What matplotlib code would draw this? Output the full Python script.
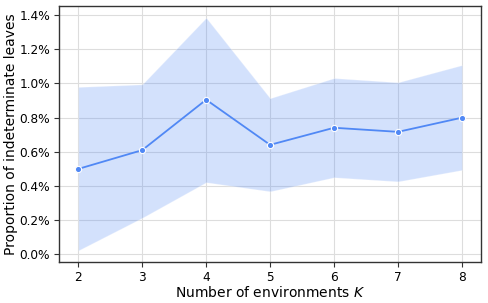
import matplotlib
matplotlib.use("Agg")
import matplotlib.pyplot as plt
from matplotlib.ticker import FuncFormatter

# Valeurs (en %)
k_values = [2, 3, 4, 5, 6, 7, 8]
mean_pct = [0.50, 0.61, 0.905, 0.641, 0.741, 0.717, 0.80]
upper_pct = [0.98, 0.995, 1.385, 0.914, 1.032, 1.007, 1.108]
lower_pct = [0.023, 0.214, 0.422, 0.369, 0.451, 0.427, 0.494]

line_color = "#5088f5"

fig = plt.figure(figsize=(4.88, 3.03), dpi=100)
ax = fig.add_subplot(111)

ax.fill_between(k_values, lower_pct, upper_pct, color=line_color, alpha=0.25,
                linewidth=0.8, edgecolor="white", zorder=2)
ax.plot(k_values, mean_pct, color=line_color, linewidth=1.3, marker="o",
        markersize=4.5, markeredgecolor="white", markeredgewidth=0.8, zorder=3)

ax.yaxis.set_major_formatter(FuncFormatter(lambda v, p: f"{v:.1f}%"))
ax.set_xticks(k_values)
ax.grid(True, color="#dddddd", linewidth=0.8, zorder=0)
ax.set_axisbelow(True)

for s in ax.spines.values():
    s.set_color("#333333")
    s.set_linewidth(1.0)
ax.tick_params(labelsize=8.7, color="#333333", length=3.5, pad=3)

ax.set_xlabel("Number of environments $K$", fontsize=10, labelpad=0.5)
ax.set_ylabel("Proportion of indeterminate leaves", fontsize=10, labelpad=1)

plt.subplots_adjust(left=0.121, right=0.986, top=0.980, bottom=0.135)
plt.savefig("out.png", dpi=100)
